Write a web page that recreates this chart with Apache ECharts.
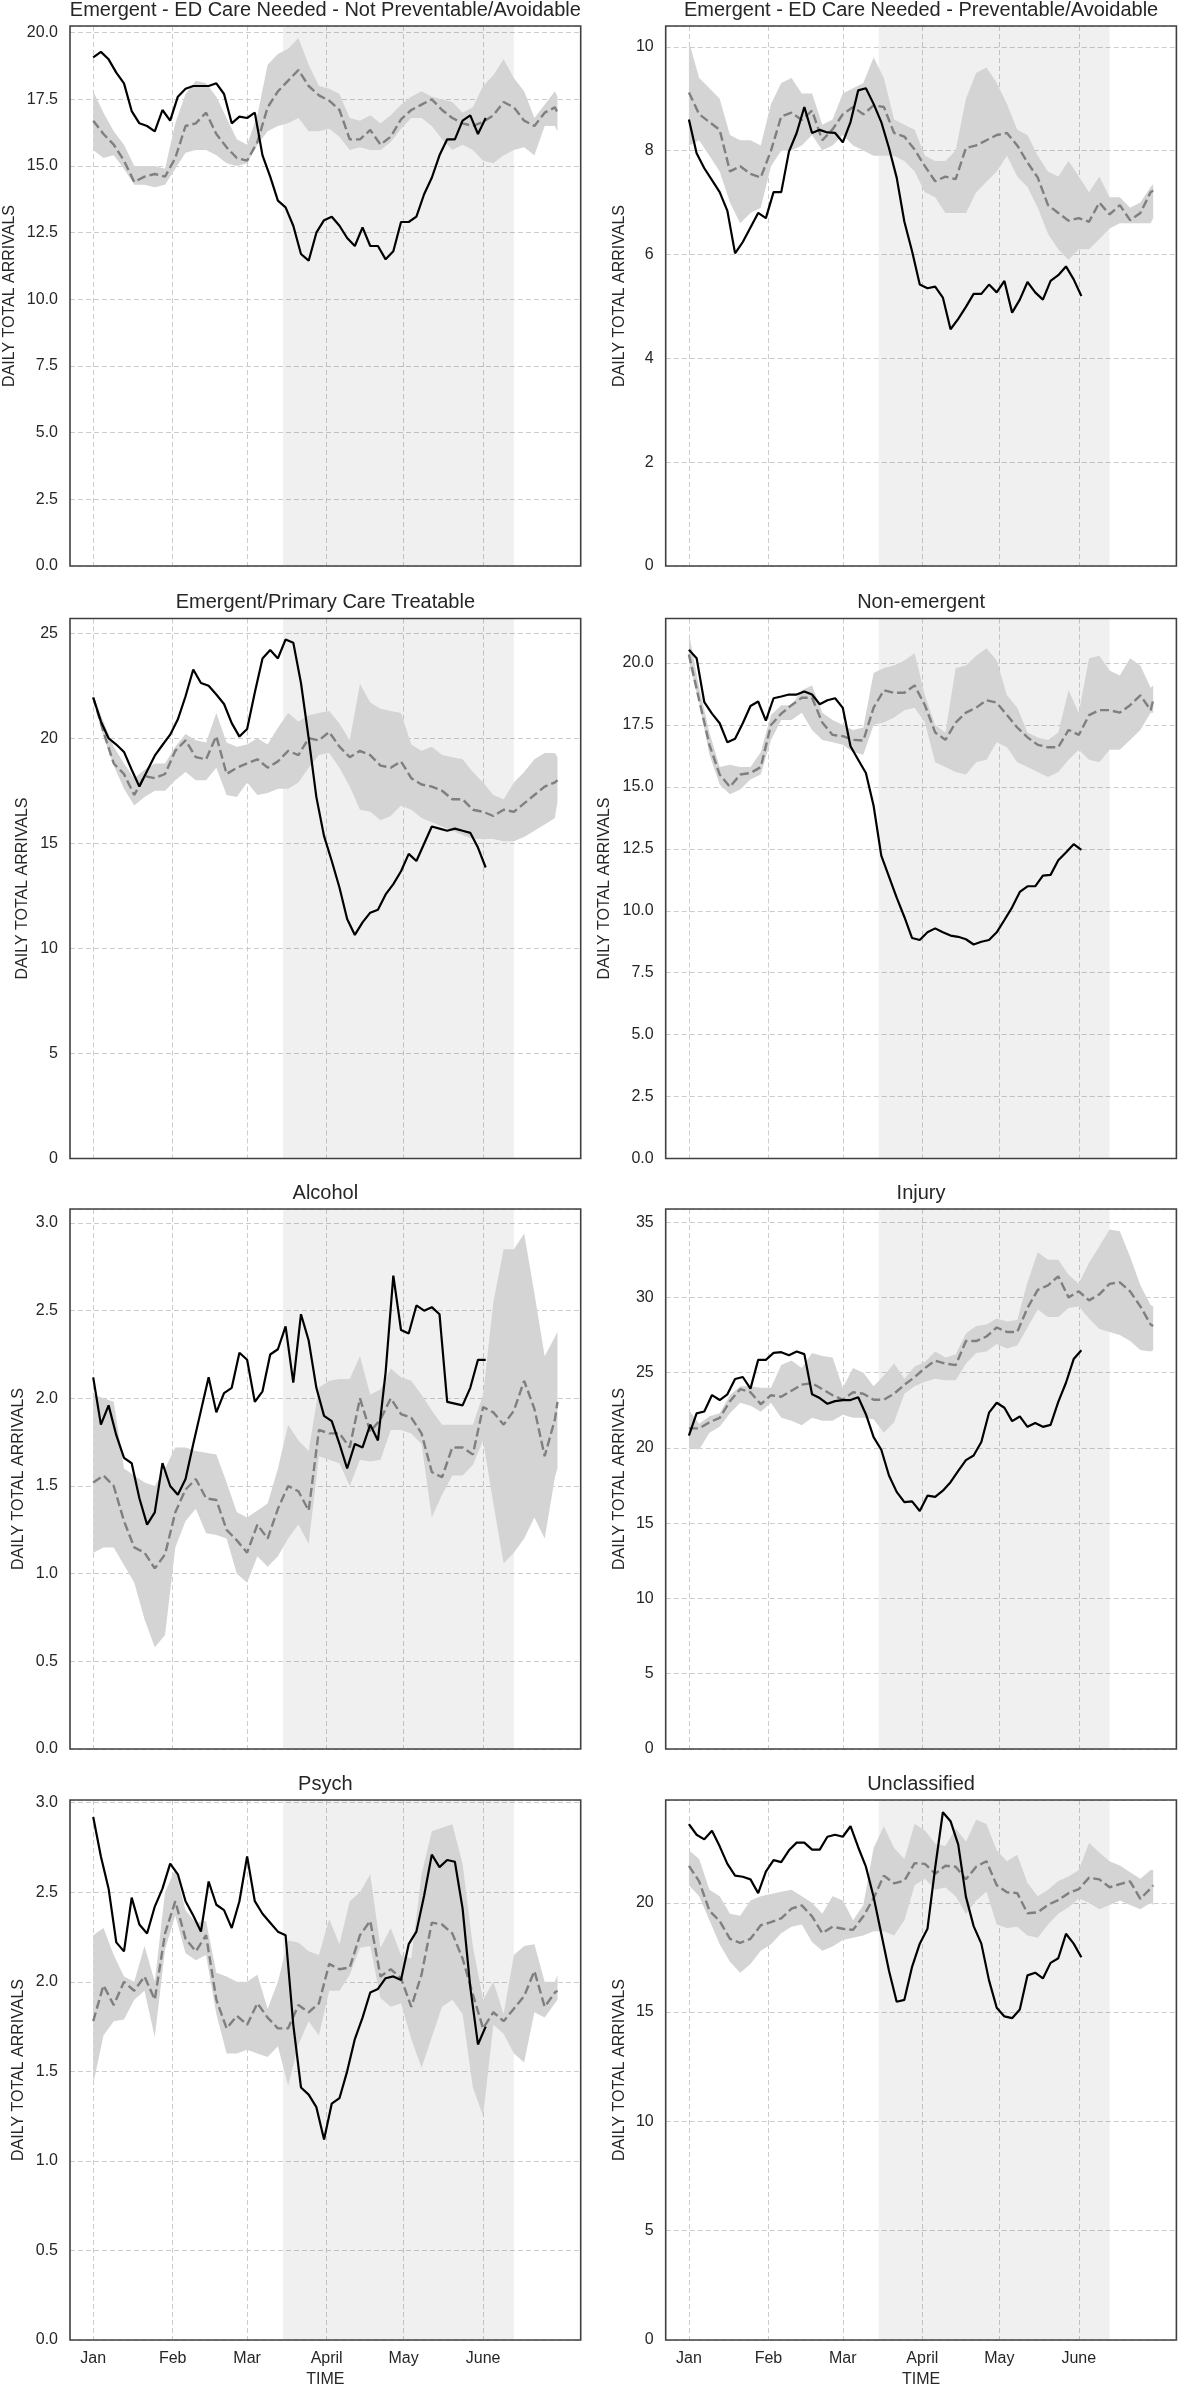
<!DOCTYPE html>
<html><head><meta charset="utf-8">
<script src="https://cdn.jsdelivr.net/npm/echarts@6/dist/echarts.min.js"></script>
<style>html,body{margin:0;padding:0;background:#fff}#c{width:1181px;height:2389px}</style>
</head><body><div id="c"></div>
<script>
// ---------- data ----------
const REF_DAYS = [0,4,8,12,16,20,24,28,32,36,40,44,48,52,56,60,64,68,72,76,80,84,88,92,96,100,104,108,112,116,120,124,128,132,136,140,144,148,152,156,160,164,168,172,176,180,181];
const ACT_DAYS = [0,3,6,9,12,15,18,21,24,27,30,33,36,39,42,45,48,51,54,57,60,63,66,69,72,75,78,81,84,87,90,93,96,99,102,105,108,111,114,117,120,123,126,129,132,135,138,141,144,147,150,153];
const MONTH_DAYS = [0,31,60,91,121,152];
const MONTH_LABELS = ['Jan','Feb','Mar','April','May','June'];
const SHADE_START = 74;
const SHADE_END = 164;
const TITLES = ['Emergent - ED Care Needed - Not Preventable/Avoidable','Emergent - ED Care Needed - Preventable/Avoidable','Emergent/Primary Care Treatable','Non-emergent','Alcohol','Injury','Psych','Unclassified'];

const ACT_1 = [19.07,19.28,19.0,18.5,18.1,17.06,16.6,16.5,16.3,17.1,16.7,17.6,17.9,18.0,18.0,18.0,18.1,17.7,16.6,16.85,16.8,17.0,15.4,14.6,13.7,13.45,12.76,11.7,11.45,12.5,12.97,13.1,12.76,12.3,12.0,12.7,12.0,12.0,11.5,11.8,12.9,12.9,13.1,13.94,14.56,15.4,16.0,16.0,16.7,16.9,16.2,16.8];
const MEAN_1 = [16.7,16.2,15.8,15.2,14.4,14.6,14.7,14.6,15.3,16.5,16.6,17.0,16.2,15.7,15.3,15.2,15.9,17.2,17.8,18.2,18.6,18.0,17.65,17.45,17.1,16.0,16.0,16.35,15.8,16.1,16.75,17.1,17.3,17.5,17.1,16.8,16.6,16.5,16.65,16.9,17.4,17.2,16.7,16.5,17.0,17.2,17.0];
const LO_1 = [15.6,15.3,15.4,14.9,14.3,14.3,14.2,14.3,14.9,15.5,15.6,15.6,15.4,15.1,15.0,15.1,15.8,16.3,16.5,16.6,16.8,16.3,16.3,16.4,16.1,15.6,15.7,15.6,15.6,15.9,16.4,16.8,16.8,16.5,16.0,15.6,15.8,15.6,15.2,15.1,15.4,15.6,15.7,15.4,16.5,16.5,16.3];
const HI_1 = [17.8,17.0,16.3,15.8,15.0,15.0,15.0,14.9,16.6,17.7,18.2,18.1,17.6,16.8,16.0,15.8,16.9,18.8,19.2,19.4,19.8,18.8,18.0,17.9,17.7,16.8,16.7,16.9,16.6,16.9,17.3,17.6,17.8,17.6,17.5,17.4,17.0,17.2,18.0,18.4,19.0,18.3,17.8,16.8,17.3,17.8,17.6];

const ACT_2 = [8.6,7.95,7.66,7.43,7.2,6.84,6.02,6.24,6.52,6.8,6.7,7.2,7.2,7.98,8.34,8.84,8.34,8.4,8.35,8.34,8.16,8.55,9.16,9.2,8.9,8.55,8.05,7.48,6.63,6.06,5.42,5.35,5.38,5.17,4.56,4.76,4.99,5.24,5.24,5.42,5.27,5.49,4.88,5.13,5.47,5.27,5.13,5.49,5.6,5.77,5.52,5.2];
const MEAN_2 = [9.12,8.7,8.55,8.4,7.6,7.7,7.55,7.48,8.0,8.66,8.73,8.59,8.77,8.2,8.41,8.7,8.84,8.7,8.87,8.84,8.34,8.27,8.02,7.7,7.41,7.5,7.45,8.05,8.1,8.2,8.3,8.34,8.1,7.77,7.48,6.95,6.8,6.65,6.7,6.63,7.0,6.77,6.95,6.66,6.8,7.2,7.23];
const LO_2 = [8.1,8.2,7.9,7.6,7.0,6.6,6.8,6.9,7.7,8.0,8.0,8.1,8.3,8.0,8.1,8.3,8.1,8.0,7.9,7.9,7.9,7.8,7.6,7.2,7.1,6.8,6.8,6.8,7.2,7.4,7.6,7.9,7.5,7.3,6.9,6.4,6.1,5.9,6.1,6.1,6.3,6.5,6.6,6.6,6.6,6.6,6.7];
const HI_2 = [10.1,9.4,9.2,9.0,8.3,8.2,8.2,8.1,8.9,9.3,9.4,9.1,9.1,8.5,8.6,9.1,9.2,9.3,9.8,9.4,8.6,8.5,8.4,7.9,7.8,7.8,8.0,9.0,9.5,9.6,9.3,8.9,8.4,8.3,7.9,7.6,7.5,7.8,7.5,7.2,7.5,7.1,7.1,6.9,7.0,7.3,7.35];

const ACT_3 = [21.94,20.8,20.0,19.7,19.35,18.5,17.7,18.44,19.17,19.68,20.17,20.9,22.0,23.27,22.63,22.5,22.08,21.63,20.72,20.08,20.44,22.18,23.8,24.2,23.8,24.7,24.55,22.63,20.0,17.2,15.34,14.16,12.9,11.4,10.64,11.24,11.7,11.84,12.57,13.06,13.67,14.5,14.16,14.98,15.8,15.7,15.6,15.7,15.6,15.5,14.8,13.85];
const MEAN_3 = [21.94,20.3,18.8,18.3,17.3,18.2,18.1,18.3,19.4,19.9,19.1,19.0,20.1,18.3,18.6,18.8,19.0,18.6,18.9,19.4,19.2,20.0,19.9,20.3,19.6,19.1,19.4,19.2,18.7,18.6,18.9,18.1,17.8,17.7,17.5,17.1,17.1,16.6,16.5,16.3,16.6,16.5,16.9,17.3,17.7,17.9,18.0];
const LO_3 = [21.8,20.1,18.7,17.6,16.8,17.2,17.5,17.5,18.0,18.4,18.0,18.0,18.6,17.3,17.2,17.9,17.3,17.4,17.6,17.6,17.9,18.6,19.2,19.3,18.6,17.7,16.6,16.5,16.1,16.3,16.8,16.6,16.2,16.0,15.8,15.6,15.4,15.2,15.2,15.2,15.1,15.1,15.3,15.6,15.9,16.2,17.0];
const HI_3 = [22.0,20.8,19.6,18.8,18.1,18.5,18.8,18.8,19.6,20.2,19.9,19.8,21.2,19.8,19.6,19.7,20.0,19.7,20.5,21.2,20.8,21.1,21.2,21.3,20.7,19.9,22.6,21.7,21.4,21.3,21.2,19.7,19.4,19.6,19.2,19.1,19.0,18.4,17.9,17.3,17.1,17.9,18.4,19.0,19.3,19.3,19.1];

const ACT_4 = [20.54,20.2,18.42,17.96,17.57,16.8,16.95,17.57,18.27,18.45,17.68,18.58,18.65,18.73,18.73,18.85,18.73,18.34,18.5,18.58,18.19,16.64,16.1,15.56,14.24,12.23,11.38,10.53,9.75,8.9,8.82,9.13,9.29,9.13,9.0,8.95,8.85,8.64,8.75,8.82,9.13,9.63,10.14,10.76,10.99,10.99,11.42,11.45,12.04,12.35,12.69,12.46];
const MEAN_4 = [20.35,18.5,16.7,15.5,15.0,15.5,15.56,15.8,17.5,17.96,18.3,18.6,18.6,17.6,17.1,17.05,16.9,16.87,18.2,18.9,18.8,18.8,19.1,18.3,17.2,16.9,17.6,18.0,18.2,18.5,18.4,17.9,17.4,17.0,16.7,16.6,16.6,17.3,17.1,17.9,18.1,18.1,18.0,18.3,18.7,18.1,18.5];
const LO_4 = [20.0,18.4,16.3,15.1,14.7,14.9,15.3,15.5,16.9,17.7,17.7,18.0,17.3,16.9,16.8,16.7,16.4,16.3,17.5,17.6,17.8,18.1,18.2,17.6,16.0,15.8,15.6,15.5,16.0,16.1,16.8,16.6,16.0,15.8,15.6,15.4,15.6,16.1,16.5,16.1,16.0,16.5,16.5,16.9,17.3,18.0,18.0];
const HI_4 = [21.2,19.0,17.2,15.8,15.9,15.8,15.8,16.4,17.9,18.3,18.3,18.9,19.1,18.0,17.7,17.5,17.3,17.4,19.6,19.8,19.9,20.1,20.4,18.7,17.5,17.2,19.8,19.9,20.3,20.6,20.1,18.7,18.2,17.2,17.0,16.9,17.2,18.9,18.0,20.2,20.3,19.7,19.5,20.2,19.9,19.0,19.1];

const ACT_5 = [2.12,1.85,1.96,1.79,1.66,1.63,1.43,1.28,1.35,1.63,1.5,1.45,1.54,1.74,1.93,2.12,1.92,2.03,2.06,2.26,2.22,1.98,2.04,2.25,2.28,2.41,2.09,2.48,2.33,2.06,1.9,1.87,1.74,1.6,1.74,1.72,1.85,1.76,2.15,2.7,2.39,2.37,2.53,2.5,2.52,2.48,1.98,1.97,1.96,2.06,2.22,2.22];
const MEAN_5 = [1.52,1.56,1.5,1.3,1.15,1.12,1.03,1.11,1.35,1.48,1.54,1.43,1.42,1.25,1.19,1.12,1.28,1.2,1.37,1.5,1.47,1.36,1.82,1.8,1.8,1.72,2.0,1.81,1.88,2.0,1.91,1.89,1.8,1.58,1.55,1.72,1.72,1.68,1.95,1.92,1.85,1.93,2.1,1.94,1.67,1.88,1.98];
const LO_5 = [1.12,1.15,1.15,1.05,0.95,0.74,0.58,0.65,1.15,1.3,1.37,1.23,1.22,1.2,1.0,0.95,1.1,1.04,1.1,1.2,1.28,1.17,1.67,1.65,1.63,1.5,1.65,1.64,1.65,1.82,1.82,1.8,1.74,1.32,1.45,1.56,1.56,1.62,1.76,1.4,1.06,1.12,1.2,1.32,1.2,1.55,1.6];
const HI_5 = [2.02,2.0,1.98,1.6,1.56,1.52,1.5,1.6,1.72,1.72,1.7,1.69,1.68,1.52,1.35,1.32,1.36,1.4,1.6,1.85,1.76,1.7,2.06,2.1,2.11,2.11,2.24,2.02,2.05,2.17,2.12,2.1,2.02,1.93,1.85,1.85,1.85,1.85,2.02,2.55,2.85,2.85,2.94,2.6,2.24,2.35,2.38];

const ACT_6 = [20.82,22.29,22.42,23.51,23.18,23.56,24.58,24.71,23.94,25.85,25.85,26.31,26.36,26.16,26.41,26.23,23.56,23.31,22.93,23.11,23.18,23.18,23.36,22.24,20.72,19.88,18.17,17.08,16.4,16.45,15.81,16.83,16.75,17.16,17.72,18.48,19.19,19.5,20.39,22.34,23.0,22.67,21.78,22.09,21.4,21.66,21.4,21.53,23.06,24.33,25.9,26.49];
const MEAN_6 = [21.3,21.3,21.7,22.0,23.1,23.9,23.7,22.9,23.5,23.4,23.8,24.2,24.3,23.9,23.5,23.2,23.7,23.6,23.2,23.2,23.6,24.2,24.7,25.3,25.8,25.6,25.5,27.1,27.1,27.4,28.0,27.7,27.7,29.3,30.5,30.8,31.4,30.0,30.4,29.8,30.2,30.9,31.0,30.4,29.4,28.2,28.1];
const LO_6 = [20.0,19.9,21.0,21.4,22.3,23.0,22.8,22.4,23.0,22.0,21.8,21.5,22.0,21.8,21.8,22.2,22.0,22.0,21.9,21.0,21.7,23.6,24.1,24.4,24.6,24.5,24.5,25.6,26.3,26.4,26.9,26.6,26.8,28.0,29.2,28.7,28.7,29.3,29.4,28.6,27.9,27.7,27.5,27.1,26.5,26.4,26.5];
const HI_6 = [22.5,21.6,22.1,22.3,23.5,24.1,24.1,24.0,24.0,25.5,25.8,25.3,26.3,26.1,26.0,24.0,25.3,25.0,24.1,24.8,25.6,24.6,25.4,25.7,26.4,26.0,26.2,27.6,28.1,28.2,28.6,28.4,28.5,31.0,33.0,32.5,32.5,31.5,30.9,32.3,33.4,34.5,34.4,32.7,30.8,29.5,29.4];

const ACT_7 = [2.92,2.7,2.52,2.22,2.17,2.47,2.32,2.27,2.42,2.52,2.66,2.6,2.45,2.37,2.28,2.56,2.43,2.4,2.3,2.45,2.7,2.45,2.38,2.33,2.28,2.26,1.76,1.41,1.37,1.3,1.12,1.32,1.35,1.5,1.68,1.8,1.94,1.96,2.02,2.03,2.01,2.21,2.28,2.48,2.71,2.64,2.68,2.67,2.41,1.97,1.65,1.75];
const MEAN_7 = [1.78,1.98,1.87,2.0,1.95,2.03,1.9,2.27,2.45,2.24,2.17,2.26,1.9,1.74,1.81,1.76,1.88,1.8,1.74,1.74,1.87,1.83,1.88,2.1,2.07,2.08,2.26,2.34,2.03,2.07,2.02,1.86,2.04,2.33,2.32,2.27,2.13,1.93,1.74,1.83,1.78,1.85,1.92,2.06,1.86,1.94,1.95];
const LO_7 = [1.43,1.7,1.78,1.79,1.9,1.95,1.69,2.18,2.37,2.16,2.12,2.15,1.82,1.6,1.6,1.62,1.6,1.58,1.64,1.42,1.65,1.78,1.7,1.95,1.95,2.04,2.19,2.2,1.91,1.86,1.88,1.68,1.52,1.69,1.86,1.9,1.82,1.41,1.25,1.76,1.71,1.6,1.55,1.83,1.8,1.88,1.9];
const HI_7 = [2.26,2.3,2.15,2.03,2.0,2.2,2.0,2.5,2.63,2.4,2.33,2.34,2.05,2.03,2.0,2.0,2.04,1.85,2.0,2.23,2.22,2.17,2.15,2.35,2.21,2.45,2.5,2.6,2.19,2.3,2.15,2.13,2.6,2.84,2.86,2.88,2.66,2.2,1.9,2.0,1.82,2.15,2.2,2.21,2.0,2.0,2.04];

const ACT_8 = [23.6,23.11,22.9,23.29,22.58,21.78,21.24,21.19,21.07,20.44,21.42,21.95,21.86,22.4,22.75,22.75,22.43,22.43,23.02,23.11,23.02,23.5,22.54,21.65,20.27,18.58,16.89,15.47,15.56,17.07,18.13,18.81,21.6,24.14,23.73,22.66,20.27,18.93,18.13,16.45,15.2,14.8,14.72,15.12,16.68,16.8,16.54,17.25,17.46,18.58,18.13,17.51];
const MEAN_8 = [21.69,20.98,19.64,19.16,18.35,18.17,18.35,18.97,19.11,19.29,19.73,19.88,19.38,18.61,18.9,18.81,18.76,19.38,20.21,21.24,20.89,21.01,21.81,21.78,21.33,21.69,21.65,21.07,21.65,21.9,20.8,20.48,20.44,19.52,19.56,19.91,20.12,20.44,20.62,21.15,21.07,20.71,20.85,20.98,20.18,20.66,20.8];
const LO_8 = [20.8,20.3,19.2,18.1,17.3,16.8,17.2,17.8,18.1,18.6,18.9,19.0,18.2,17.8,18.0,18.3,18.4,18.5,18.7,18.7,18.5,19.2,20.8,21.1,20.6,20.7,20.3,19.5,20.1,20.5,19.0,18.85,18.9,18.5,18.4,19.0,19.5,19.8,20.2,20.0,19.7,19.9,20.1,19.9,19.7,20.0,19.9];
const HI_8 = [22.4,22.0,20.6,20.3,19.5,19.4,20.1,20.3,20.4,20.5,20.6,20.3,20.0,19.5,20.3,20.1,19.2,19.9,22.5,23.5,22.5,22.0,23.6,23.3,22.7,22.6,23.4,22.8,23.8,23.6,22.4,21.9,22.2,20.9,20.3,20.6,21.0,21.2,21.5,22.75,22.3,21.9,21.7,21.4,21.1,21.5,21.5];

const Y_MAX = [20.25,10.4,25.7,21.8,3.08,35.87,3.015,24.7];
const Y_STEP = [2.5,2,5,2.5,0.5,5,0.5,5];
const Y_DEC = [1,0,0,1,1,0,1,0];

// ---------- layout / style ----------
const PANELS = [
  [ACT_1,MEAN_1,LO_1,HI_1],[ACT_2,MEAN_2,LO_2,HI_2],[ACT_3,MEAN_3,LO_3,HI_3],[ACT_4,MEAN_4,LO_4,HI_4],
  [ACT_5,MEAN_5,LO_5,HI_5],[ACT_6,MEAN_6,LO_6,HI_6],[ACT_7,MEAN_7,LO_7,HI_7],[ACT_8,MEAN_8,LO_8,HI_8]
];
const COL_LEFT = [70, 665.7];
const ROW_TOP = [26, 618.5, 1209, 1800];
const GW = 510.7, GH = 540;
const NAME_GAP = [52.6,37.7,39.4,52.7,43.2,37.7,43.2,38.3];
const FONT = '"Liberation Sans", Arial, Helvetica, sans-serif';
const TXT = '#262626';

const grids = [], xAxes = [], yAxes = [], series = [], graphics = [];
PANELS.forEach((p, i) => {
  const col = i % 2, row = Math.floor(i / 2);
  const left = COL_LEFT[col], top = ROW_TOP[row];
  grids.push({left: left, top: top, width: GW, height: GH, show: false});
  xAxes.push({
    type: 'value', gridIndex: i, min: -9.05, max: 190.05,
    axisLine: {show: false},
    axisTick: {show: false, customValues: MONTH_DAYS},
    axisLabel: {show: row === 3, customValues: MONTH_DAYS, margin: 11, fontSize: 16, color: TXT, fontFamily: FONT,
      formatter: v => { const k = MONTH_DAYS.indexOf(Math.round(v)); return k >= 0 ? MONTH_LABELS[k] : ''; }},
    splitLine: {show: true, lineStyle: {color: '#cccccc', width: 1, type: [5, 3]}},
    name: row === 3 ? 'TIME' : '', nameLocation: 'middle', nameGap: 32,
    nameTextStyle: {fontSize: 16, color: TXT, fontFamily: FONT}
  });
  const dec = Y_DEC[i];
  yAxes.push({
    type: 'value', gridIndex: i, min: 0, max: Y_MAX[i], interval: Y_STEP[i],
    axisLine: {show: false}, axisTick: {show: false},
    axisLabel: {showMaxLabel: false, margin: 12, fontSize: 16, color: TXT, fontFamily: FONT, formatter: v => v.toFixed(dec)},
    splitLine: {show: true, lineStyle: {color: '#cccccc', width: 1, type: [5, 3]}},
    name: 'DAILY TOTAL ARRIVALS', nameLocation: 'middle', nameGap: NAME_GAP[i], nameRotate: 90,
    nameTextStyle: {fontSize: 16, color: TXT, fontFamily: FONT}
  });
  graphics.push({type: 'text', x: left + GW / 2, y: top - 16, z: 100,
    style: {text: TITLES[i], font: '20px ' + FONT, fill: TXT, textAlign: 'center', textVerticalAlign: 'middle', align: 'center', verticalAlign: 'middle'}});
  graphics.push({type: 'rect', z: 100, silent: true,
    shape: {x: left, y: top, width: GW, height: GH},
    style: {fill: 'none', stroke: '#404040', lineWidth: 1.6}});

  const [act, mean, lo, hi] = p;
  // lockdown shading
  series.push({
    type: 'custom', xAxisIndex: i, yAxisIndex: i, silent: true,
    data: [[SHADE_START, 0, SHADE_END]], encode: {x: [0, 2], y: 1},
    renderItem: (params, api) => {
      const cs = params.coordSys;
      const x0 = api.coord([api.value(0), 0])[0];
      const x1 = api.coord([api.value(2), 0])[0];
      return {type: 'rect', shape: {x: x0, y: cs.y, width: x1 - x0, height: cs.height}, style: {fill: 'rgba(0,0,0,0.06)'}};
    }
  });
  // min-max band of reference years
  series.push({
    type: 'custom', xAxisIndex: i, yAxisIndex: i, silent: true, clip: true,
    data: REF_DAYS.map((d, k) => [d, lo[k], hi[k]]), encode: {x: 0, y: [1, 2]},
    renderItem: (params, api) => {
      if (params.dataIndexInside !== 0) return null;
      const n = params.dataInsideLength;
      const up = [], dn = [];
      for (let j = 0; j < n; j++) {
        const x = api.value(0, j);
        up.push(api.coord([x, api.value(2, j)]));
        dn.push(api.coord([x, api.value(1, j)]));
      }
      return {type: 'polygon', shape: {points: up.concat(dn.reverse())}, style: {fill: '#d4d4d4', stroke: null}};
    }
  });
  series.push({
    type: 'line', xAxisIndex: i, yAxisIndex: i, silent: true, symbol: 'none', showSymbol: false,
    data: REF_DAYS.map((d, k) => [d, mean[k]]),
    lineStyle: {color: '#7f7f7f', width: 2.4, type: [9, 4]}
  });
  series.push({
    type: 'line', xAxisIndex: i, yAxisIndex: i, silent: true, symbol: 'none', showSymbol: false,
    data: ACT_DAYS.map((d, k) => [d, act[k]]),
    lineStyle: {color: '#000000', width: 2.2}
  });
});

const chart = echarts.init(document.getElementById('c'), null, {renderer: 'canvas'});
chart.setOption({
  backgroundColor: '#ffffff', animation: false,
  grid: grids, xAxis: xAxes, yAxis: yAxes, series: series, graphic: graphics
});
</script>
</body></html>
